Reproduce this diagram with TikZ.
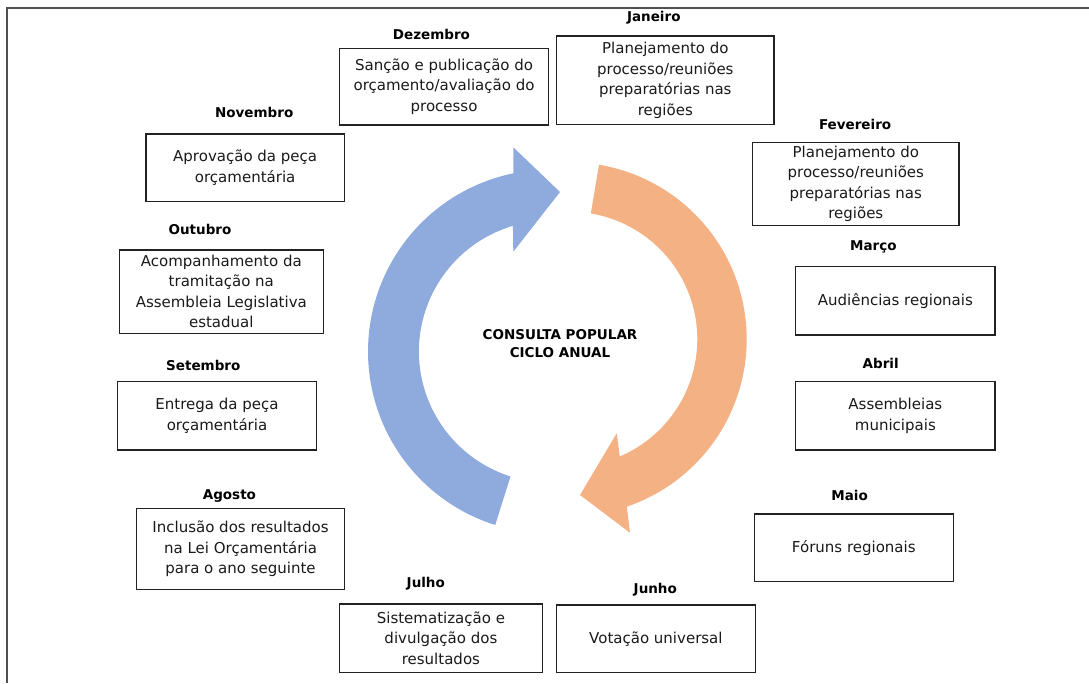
\documentclass[tikz,border=0pt]{standalone}
\usepackage{fontspec}
\setmainfont{DejaVu Sans}
\definecolor{bluearrow}{HTML}{8FAADC}
\definecolor{orangearrow}{HTML}{F4B183}
\definecolor{framec}{HTML}{505050}
\definecolor{boxline}{HTML}{222222}
\definecolor{txt}{HTML}{1A1A1A}
\tikzset{
  stepbox/.style={draw=boxline, line width=1.3pt, inner sep=0pt, align=center,
    text=txt, font=\fontsize{15}{20.5}\selectfont},
  month/.style={inner sep=0pt, text=black, font=\fontsize{13.5}{16}\selectfont\bfseries},
  center/.style={inner sep=0pt, align=center, text=black, font=\fontsize{13.5}{18}\selectfont\bfseries}
}
\newcommand{\bx}[6]{% name, left, top, right, bottom, text
  \node[stepbox, minimum width={#4-#2}, minimum height={#5-#3}] (#1) at ({(#2+#4)/2},{(#3+#5)/2}) {#6};}
\begin{document}
\begin{tikzpicture}[x=1pt,y=-1pt]
\useasboundingbox (0,0) rectangle (1089,683);
\fill[white] (0,0) rectangle (1089,683);
\draw[framec, line width=2pt] (7,683) -- (7,8) -- (1089,8);

% arrows
\fill[bluearrow] plot[domain=252.5:101.6, samples=90] ({549.9+181.9*cos(\x)},{351.5-181.9*sin(\x)})
  -- (513.3,147.3) -- (560,192) -- (513.3,251.7)
  -- plot[domain=106.4:252.5, samples=90] ({549.9+131*cos(\x)},{351.5-131*sin(\x)}) -- cycle;
\fill[orangearrow] plot[domain=80.5:-71.2, samples=90] ({569.8+176.9*cos(\x)},{339.2-176.9*sin(\x)})
  -- (630,532.7) -- (580,495) -- (616.7,433.3)
  -- plot[domain=-66.9:80.5, samples=90] ({569.8+127.5*cos(\x)},{339.2-127.5*sin(\x)}) -- cycle;

\node[center] (ctr) at (560,344) {CONSULTA POPULAR\\CICLO ANUAL};

% boxes
\bx{dez}{339.3}{48.3}{548.8}{125}{Sanção e publicação do\\orçamento/avaliação do\\processo}
\bx{jan}{556.8}{36}{773.9}{124.3}{Planejamento do\\processo/reuniões\\preparatórias nas\\regiões}
\bx{nov}{146}{134}{344.3}{201.7}{Aprovação da peça\\orçamentária}
\bx{fev}{752.5}{142.3}{959.1}{225.7}{Planejamento do\\processo/reuniões\\preparatórias nas\\regiões}
\bx{out}{119.3}{250}{323.3}{333.3}{Acompanhamento da\\tramitação na\\Assembleia Legislativa\\estadual}
\bx{mar}{795.7}{266.7}{995}{335}{Audiências regionais}
\bx{set}{117.3}{381.7}{316.7}{450}{Entrega da peça\\orçamentária}
\bx{abr}{795.7}{381.7}{995}{450}{Assembleias\\municipais}
\bx{ago}{136.3}{508.3}{344.8}{589.3}{Inclusão dos resultados\\na Lei Orçamentária\\para o ano seguinte}
\bx{mai}{754.2}{514}{953.4}{581.7}{Fóruns regionais}
\bx{jul}{339.6}{604}{542.2}{672.3}{Sistematização e\\divulgação dos\\resultados}
\bx{jun}{556.5}{605}{755.3}{672.7}{Votação universal}

% month labels
\node[month] (ljan) at (653.8,17.3) {Janeiro};
\node[month] (ldez) at (431.5,34.3) {Dezembro};
\node[month] (lnov) at (254.2,112.3) {Novembro};
\node[month] (lfev) at (855.1,124) {Fevereiro};
\node[month] (lout) at (200,229.5) {Outubro};
\node[month] (lmar) at (873.3,246.7) {Março};
\node[month] (labr) at (880.7,363.3) {Abril};
\node[month] (lset) at (203.3,365.7) {Setembro};
\node[month] (lmai) at (849.6,495) {Maio};
\node[month] (lago) at (229.4,496) {Agosto};
\node[month] (ljul) at (425.8,583.3) {Julho};
\node[month] (ljun) at (655.3,589.3) {Junho};
\end{tikzpicture}
\end{document}
